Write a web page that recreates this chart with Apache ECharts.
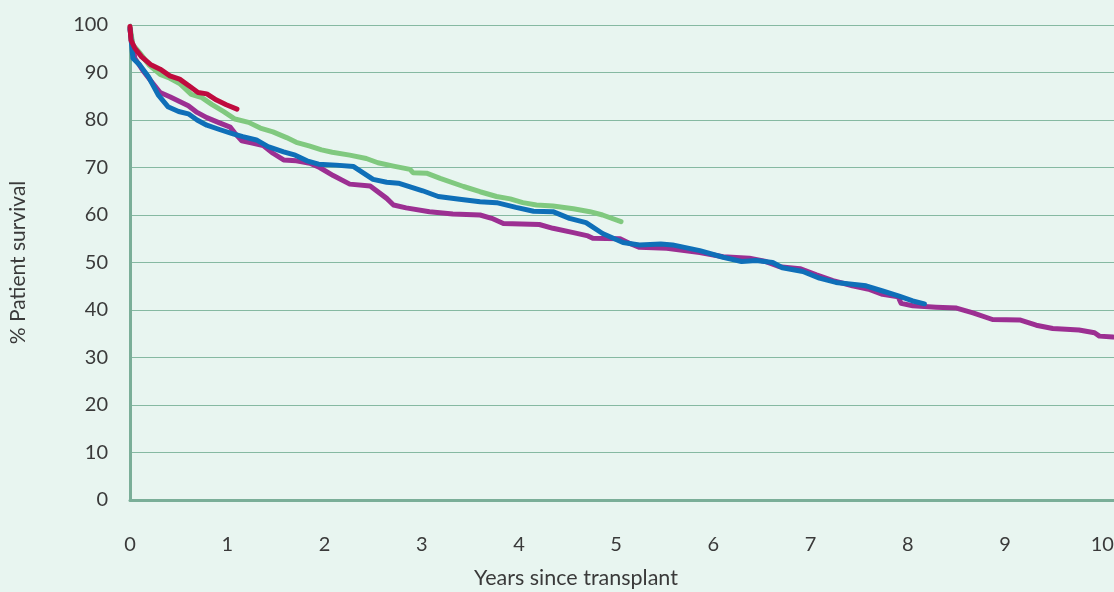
<!DOCTYPE html>
<html>
<head>
<meta charset="utf-8">
<script src="https://cdn.jsdelivr.net/npm/echarts@6/dist/echarts.min.js"></script>
<style>
html,body{margin:0;padding:0;background:#e8f5f0;}
#c{width:1114px;height:592px;}
</style>
</head>
<body>
<div id="c"></div>
<script>
// Values: [years since transplant, % patient survival]
const xTicks = [0,1,2,3,4,5,6,7,8,9,10];
const yTicks = [0,10,20,30,40,50,60,70,80,90,100];

const redSeries = [
  [0,99.7],[0.01,96.8],[0.05,95.1],[0.12,93.3],[0.21,91.7],[0.31,90.7],[0.41,89.3],
  [0.51,88.6],[0.62,87.0],[0.70,85.8],[0.79,85.5],[0.89,84.2],[0.99,83.2],[1.10,82.3]
];

const greenSeries = [
  [0,99.5],[0.03,95.8],[0.09,94.4],[0.2,91.5],[0.31,89.6],[0.41,88.8],[0.51,87.7],[0.63,85.4],
  [0.74,84.7],[0.84,83.3],[0.96,81.8],[1.08,80.2],[1.22,79.5],[1.34,78.3],[1.47,77.5],
  [1.61,76.3],[1.71,75.3],[1.85,74.5],[1.97,73.7],[2.08,73.2],[2.26,72.6],[2.43,71.9],
  [2.55,71.0],[2.71,70.3],[2.88,69.6],[2.91,68.9],[3.05,68.8],[3.19,67.7],[3.43,66.0],
  [3.60,64.9],[3.77,63.9],[3.91,63.4],[4.04,62.6],[4.18,62.1],[4.35,61.9],[4.56,61.3],
  [4.73,60.7],[4.86,60.0],[5.05,58.6]
];

const blueSeries = [
  [0,99.3],[0.03,93.0],[0.10,91.6],[0.19,89.1],[0.29,85.3],[0.39,82.8],[0.50,81.8],
  [0.60,81.3],[0.69,80.0],[0.79,78.9],[0.92,78.0],[1.06,77.1],[1.16,76.5],[1.30,75.8],
  [1.42,74.4],[1.58,73.3],[1.70,72.6],[1.82,71.4],[1.94,70.7],[2.12,70.5],[2.30,70.2],
  [2.50,67.5],[2.64,66.9],[2.76,66.7],[3.01,65.1],[3.17,63.9],[3.39,63.3],[3.60,62.8],
  [3.77,62.6],[3.97,61.6],[4.15,60.8],[4.35,60.7],[4.52,59.3],[4.69,58.4],[4.86,56.1],
  [5.07,54.2],[5.24,53.7],[5.46,53.9],[5.58,53.7],[5.86,52.5],[6.10,51.1],[6.29,50.2],
  [6.44,50.4],[6.61,50.0],[6.71,48.9],[6.92,48.1],[7.09,46.7],[7.26,45.8],[7.57,45.1],
  [7.74,44.0],[7.91,42.9],[8.05,41.9],[8.17,41.3]
];

const purpleSeries = [
  [0,99.0],[0.05,93.0],[0.14,90.2],[0.22,88.1],[0.31,85.8],[0.41,84.9],[0.51,83.9],
  [0.60,83.0],[0.69,81.6],[0.79,80.5],[0.92,79.4],[1.03,78.5],[1.08,77.2],[1.15,75.6],
  [1.27,75.1],[1.37,74.6],[1.47,73.0],[1.58,71.6],[1.71,71.4],[1.85,70.9],[1.95,70.0],
  [2.09,68.3],[2.26,66.5],[2.47,66.1],[2.64,63.5],[2.71,62.1],[2.84,61.5],[3.08,60.7],
  [3.32,60.2],[3.60,60.0],[3.72,59.3],[3.84,58.2],[4.21,58.0],[4.35,57.2],[4.56,56.3],
  [4.71,55.6],[4.76,55.1],[5.04,55.0],[5.14,54.0],[5.24,53.2],[5.52,53.0],[5.86,52.1],
  [6.10,51.2],[6.37,50.9],[6.54,50.2],[6.68,49.1],[6.89,48.7],[7.06,47.4],[7.23,46.2],
  [7.43,45.1],[7.61,44.3],[7.74,43.3],[7.90,42.8],[7.93,41.4],[8.05,40.9],[8.29,40.6],
  [8.50,40.4],[8.67,39.4],[8.87,38.0],[9.15,37.9],[9.32,36.8],[9.49,36.1],[9.76,35.8],
  [9.92,35.2],[9.97,34.5],[10.11,34.3]
];

const xName = 'Years since transplant';
const yName = '% Patient survival';

const FONT = 'Lato, "Noto Sans", sans-serif';
const FS = 20;
const TXT = '#3a3a3a';
const chart = echarts.init(document.getElementById('c'), null, {renderer:'canvas'});

function line(name, data, color, z){
  return {
    name, type:'line', data, showSymbol:false, symbol:'none', z,
    lineStyle:{color, width:5, cap:'round', join:'round'},
    itemStyle:{color}, animation:false, silent:true
  };
}

chart.setOption({
  backgroundColor:'#e8f5f0',
  animation:false,
  grid:{left:130, right:0, top:25, bottom:92, containLabel:false, outerBoundsMode:'none'},
  xAxis:{
    type:'value', min:0, max:10.12, interval:1,
    axisLine:{show:true, onZero:false, lineStyle:{color:'#7aae98', width:3}},
    axisTick:{show:false},
    splitLine:{show:false},
    axisLabel:{
      margin:35, color:TXT, fontSize:FS, fontFamily:FONT, hideOverlap:false,
      formatter:function(v){ return xTicks.indexOf(Math.round(v*1000)/1000) >= 0 ? String(v) : ''; }
    }
  },
  yAxis:{
    type:'value', min:0, max:100, interval:10,
    name:yName, nameLocation:'middle', nameGap:101, nameRotate:90,
    nameTextStyle:{color:TXT, fontSize:21, fontFamily:FONT},
    axisLine:{show:true, lineStyle:{color:'#7aae98', width:3}},
    axisTick:{show:false},
    splitLine:{show:true, lineStyle:{color:'#86b9a2', width:1}},
    axisLabel:{
      margin:22, color:TXT, fontSize:FS, fontFamily:FONT, padding:[0,0,14,0],
      formatter:function(v){ return yTicks.indexOf(v) >= 0 ? String(v) : ''; }
    }
  },
  graphic:[{
    type:'text', x:576, y:578,
    style:{text:xName, fill:TXT, font:'21.5px ' + FONT, textAlign:'center', textVerticalAlign:'middle'}
  }],
  series:[
    line('Purple', purpleSeries, '#9c2f92', 2),
    line('Green', greenSeries, '#80c97f', 3),
    line('Blue', blueSeries, '#0f6fb8', 4),
    line('Red', redSeries, '#bf0b3e', 5)
  ]
});
</script>
</body>
</html>
